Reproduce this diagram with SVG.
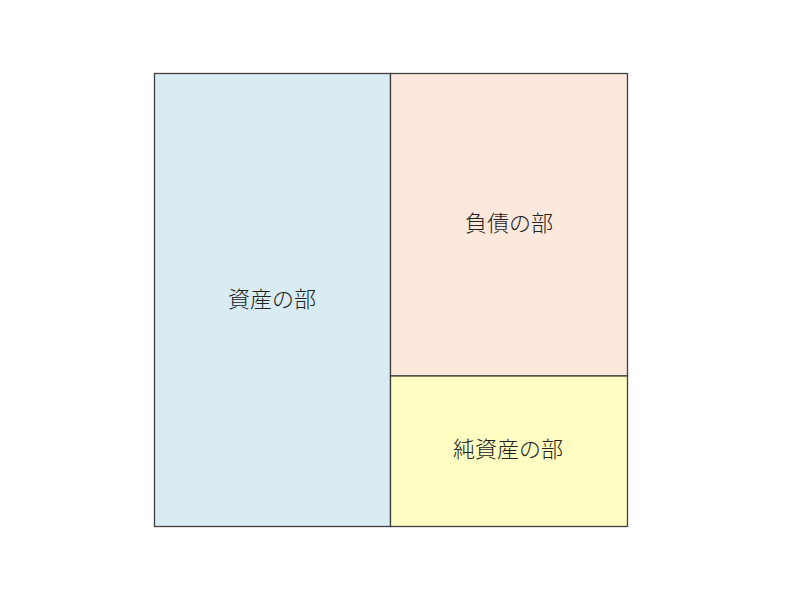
<svg xmlns="http://www.w3.org/2000/svg" width="800" height="600" viewBox="0 0 800 600">
<style>
.box{stroke:#404040;stroke-width:1.3}
.lbl{font-family:"Noto Sans CJK JP","Noto Sans CJK SC",sans-serif;font-size:22px;font-weight:300;fill:#222;text-anchor:middle;dominant-baseline:central}
</style>
<rect width="800" height="600" fill="#ffffff"/>
<g id="assets">
<rect class="box" x="154.5" y="73.5" width="236" height="453" fill="#DAECF3"/>
<text class="lbl" x="272" y="297">資産の部</text>
</g>
<g id="liabilities">
<rect class="box" x="390.5" y="73.5" width="237" height="302.5" fill="#FCE8DC"/>
<text class="lbl" x="509" y="221">負債の部</text>
</g>
<g id="net-assets">
<rect class="box" x="390.5" y="376" width="237" height="150.5" fill="#FFFDC1"/>
<text class="lbl" x="508" y="447">純資産の部</text>
</g>
<g id="connectors"></g>
</svg>
